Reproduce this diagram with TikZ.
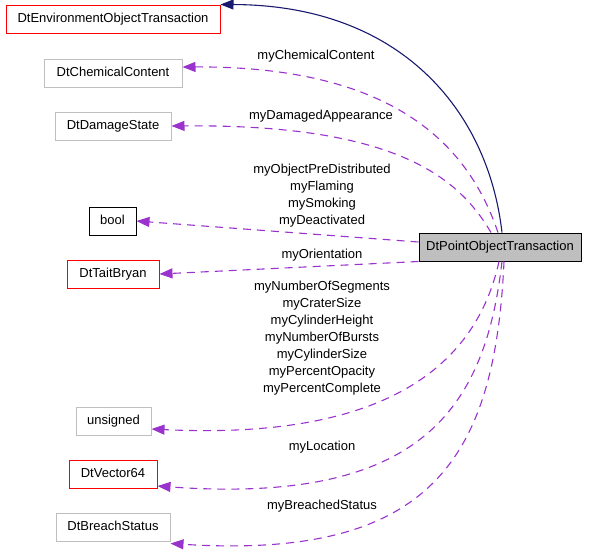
\documentclass[tikz,border=0pt]{standalone}
\usepackage{fontspec}
\setmainfont{Liberation Sans}
\usetikzlibrary{arrows.meta}
\definecolor{edgeblue}{HTML}{191970}
\definecolor{edgepurple}{HTML}{9A32CD}
\definecolor{boxred}{HTML}{FF0000}
\definecolor{boxgrey}{HTML}{BFBFBF}

\begin{document}
\begin{tikzpicture}[x=1pt,y=-1pt,
        font=\fontsize{13}{17}\selectfont,
        cls/.style={draw,minimum height=28pt,inner sep=0pt,text height=9.5pt,text depth=2.5pt,line width=1pt},
        redcls/.style={cls,draw=boxred},
        greycls/.style={cls,draw=boxgrey},
        usage/.style={edgepurple,line width=1.1pt,dash pattern=on 8pt off 6pt,-{Triangle[length=13pt,width=10pt]}},
        inherit/.style={edgeblue,line width=1.1pt,-{Triangle[length=13pt,width=10pt]}},
        lbl/.style={align=center,inner sep=0pt}]
            \useasboundingbox (0,0) rectangle (597,557);
            \node[redcls,minimum width=214pt] (env) at (113,19) {DtEnvironmentObjectTransaction};
            \node[greycls,minimum width=138pt] (chem) at (113,73) {DtChemicalContent};
            \node[greycls,minimum width=116pt] (dmg) at (113,126) {DtDamageState};
            \node[cls,minimum width=47pt] (bool) at (112.5,221) {bool};
            \node[redcls,minimum width=92pt] (tait) at (113,274) {DtTaitBryan};
            \node[greycls,minimum width=75pt] (uns) at (113.5,421) {unsigned};
            \node[redcls,minimum width=88pt] (vec) at (113,474) {DtVector64};
            \node[greycls,minimum width=114pt] (breach) at (113,527) {DtBreachStatus};
            \node[cls,fill=boxgrey,minimum width=162pt] (pot) at (500,247) {DtPointObjectTransaction};
            \draw[inherit] ([xshift=2pt]pot.north) .. controls (488,110) and (400,5) .. (env.north east);
            \draw[usage] ([xshift=-2pt]pot.north) .. controls (470,150) and (400,66) .. ([yshift=6pt]chem.east);
            \draw[usage] ([xshift=-9pt]pot.north) .. controls (460,180) and (400,124) .. (dmg.east);
            \draw[usage] ([yshift=5pt]pot.west) -- (bool.east);
            \draw[usage] (pot.south west) -- (tait.east);
            \draw[usage] ([xshift=-1pt]pot.south) .. controls (475,370) and (380,440) .. ([yshift=-8pt]uns.east);
            \draw[usage] ([xshift=2pt]pot.south) .. controls (485,410) and (420,505) .. ([yshift=-12pt]vec.east);
            \draw[usage] ([xshift=4pt]pot.south) .. controls (495,460) and (430,560) .. ([yshift=-2pt]breach.south east);
            \node[lbl] (lchem) at (316,56) {myChemicalContent};
            \node[lbl] (ldmg) at (321,116) {myDamagedAppearance};
            \node[lbl] (lbool) at (322,196) {myObjectPreDistributed\\myFlaming\\mySmoking\\myDeactivated};
            \node[lbl] (ltait) at (322,255) {myOrientation};
            \node[lbl] (luns) at (322,338) {myNumberOfSegments\\myCraterSize\\myCylinderHeight\\myNumberOfBursts\\myCylinderSize\\myPercentOpacity\\myPercentComplete};
            \node[lbl] (lvec) at (322,447) {myLocation};
            \node[lbl] (lbreach) at (322,506) {myBreachedStatus};
        \end{tikzpicture}
\end{document}
